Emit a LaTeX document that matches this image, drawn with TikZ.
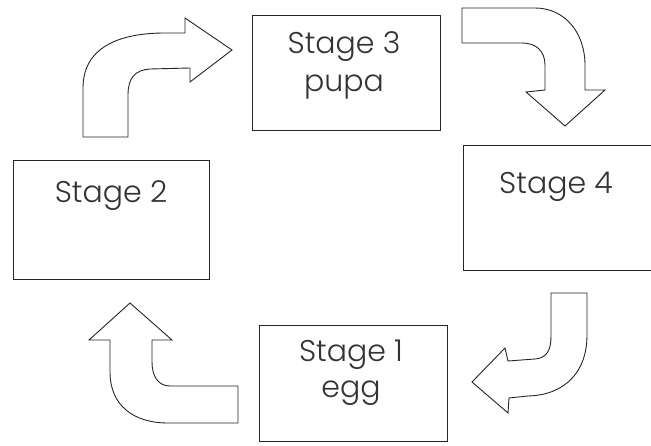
\documentclass[tikz,border=0pt]{standalone}
\usepackage{fontspec}
\setmainfont{Poppins Light}
\begin{document}
\begin{tikzpicture}[x=1pt,y=-1pt,
  boxline/.style={draw=black!85,line width=0.9pt},
  bigarrow/.style={draw=black!85,line width=0.9pt,line join=miter,fill=white},
  label/.style={font=\fontsize{30}{36}\selectfont,text=black!80,anchor=base,inner sep=0pt}]
\useasboundingbox (0,0) rectangle (651,446);
% boxes
\draw[boxline] (252,15) rectangle (440,130) coordinate (b3);
\draw[boxline] (463,145) rectangle (670,270) coordinate (b4);
\draw[boxline] (13,160) rectangle (209,279) coordinate (b2);
\draw[boxline] (259,325) rectangle (447,441) coordinate (b1);
% labels
\node[label] (t3a) at (344,54) {Stage 3};
\node[label] (t3b) at (344,92) {pupa};
\node[label] (t2) at (111,203) {Stage 2};
\node[label] (t4) at (556,194) {Stage 4};
\node[label] (t1a) at (351,362) {Stage 1};
\node[label] (t1b) at (351,398) {egg};
% arrow: stage 2 -> stage 3
\draw[bigarrow] (83,137) -- (83,88) .. controls (83,48) and (118,33) .. (165,33)
  -- (185,33) -- (185,18) -- (232,50) -- (190,82) -- (190,68) -- (150,69)
  .. controls (135,70) and (128,78) .. (128,95) -- (128,137) -- cycle;
% arrow: stage 3 -> stage 4
\draw[bigarrow] (462,8) -- (535,8) .. controls (565,8) and (585,33) .. (585,65)
  -- (585,90) -- (605,90) -- (565,126) -- (526,92) -- (545,90) -- (545,65)
  .. controls (545,51) and (536,43) .. (522,43) -- (462,43) -- cycle;
% arrow: stage 4 -> stage 1
\draw[bigarrow] (551,293) -- (587,293) -- (587,335) .. controls (587,372) and (565,395) .. (528,396)
  -- (509,398) -- (508,413) -- (472,382) -- (505,348) -- (508,361) -- (535,359)
  .. controls (547,358) and (551,350) .. (551,336) -- cycle;
% arrow: stage 1 -> stage 2
\draw[bigarrow] (152,340) -- (172,340) -- (130,303) -- (89,340) -- (110,340)
  -- (110,372) .. controls (110,405) and (133,423) .. (168,423) -- (238,423)
  -- (238,386) -- (170,386) .. controls (158,386) and (152,376) .. (152,362) -- cycle;
\end{tikzpicture}
\end{document}
